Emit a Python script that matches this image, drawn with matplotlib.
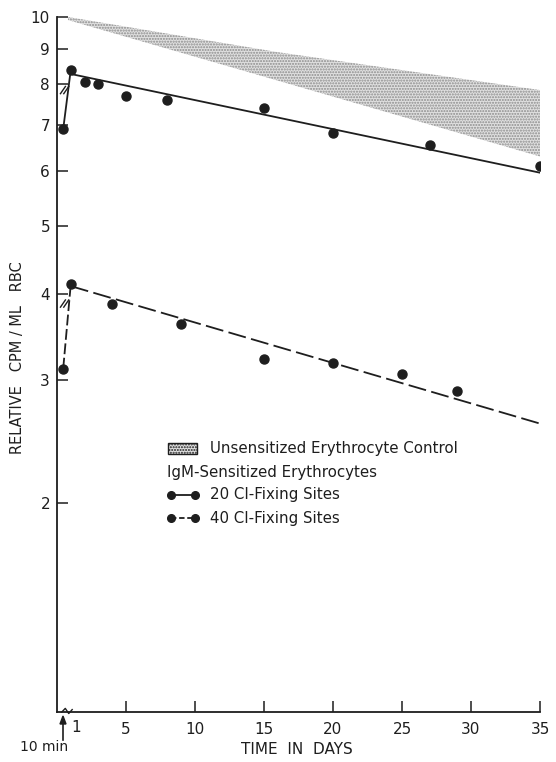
#!/usr/bin/env python3
"""Relative CPM / ML RBC vs time in days (log y), IgM-sensitized vs control."""
import matplotlib
matplotlib.use("Agg")
import matplotlib.pyplot as plt
from matplotlib.ticker import FixedLocator, FixedFormatter, NullLocator

# data (first x position = the "10 min" point)
SOLID_DAYS = [0.45, 1, 2, 3, 5, 8, 15, 20, 27, 35]
SOLID_VALS = [6.9, 8.4, 8.05, 8.0, 7.7, 7.6, 7.4, 6.8, 6.55, 6.1]
SOLID_FIT_DAYS = [1, 35]
SOLID_FIT_VALS = [8.28, 5.97]

DASH_DAYS = [0.45, 1, 4, 9, 15, 20, 25, 29]
DASH_VALS = [3.12, 4.13, 3.86, 3.62, 3.22, 3.18, 3.06, 2.90]
DASH_FIT_DAYS = [1, 35]
DASH_FIT_VALS = [4.10, 2.60]

BAND_DAYS = [0.8, 16, 35]
BAND_TOP = [10.0, 8.9, 7.85]
BAND_BOT = [9.9, 8.1, 6.3]

Y_TICKS = [2, 3, 4, 5, 6, 7, 8, 9, 10]
X_TICKS = [5, 10, 15, 20, 25, 30, 35]

W, H = 556, 762
INK = "#1e1e1e"
plt.rcParams["font.family"] = ["DejaVu Sans"]

fig = plt.figure(figsize=(W / 100, H / 100), dpi=100)
ax = fig.add_axes([57 / W, 1 - 712 / H, (540 - 57) / W, (712 - 17) / H])


def px(x, y):
    return x / W, 1 - y / H


# control band
ax.fill_between(BAND_DAYS, BAND_BOT, BAND_TOP, facecolor="#e0e0e0",
                edgecolor="#8c8c8c", hatch="......", linewidth=0)

# 20 sites (solid)
ax.plot(SOLID_FIT_DAYS, SOLID_FIT_VALS, color=INK, lw=1.3)
ax.plot(SOLID_DAYS[:2], SOLID_VALS[:2], color=INK, lw=1.3)
ax.plot(SOLID_DAYS, SOLID_VALS, "o", color=INK, ms=6.5)

# 40 sites (dashed)
ax.plot(DASH_FIT_DAYS, DASH_FIT_VALS, color=INK, lw=1.3, dashes=(10, 3))
ax.plot(DASH_DAYS[:2], DASH_VALS[:2], color=INK, lw=1.3, dashes=(6, 2))
ax.plot(DASH_DAYS, DASH_VALS, "o", color=INK, ms=6.5)

# break marks on the steep early segments
for yv in (7.85, 3.87):
    for dx in (-0.12, 0.12):
        ax.plot([0.55 + dx - 0.18, 0.55 + dx + 0.18], [yv / 1.012, yv * 1.012],
                color=INK, lw=1.0)

ax.set_yscale("log")
ax.set_ylim(1, 10)
ax.set_xlim(0, 35)
ax.yaxis.set_major_locator(FixedLocator(Y_TICKS))
ax.yaxis.set_major_formatter(FixedFormatter([str(v) for v in Y_TICKS]))
ax.yaxis.set_minor_locator(NullLocator())
ax.set_xticks(X_TICKS)
ax.set_xticklabels([str(v) for v in X_TICKS])
ax.tick_params(axis="both", direction="in", length=8, width=1.1, colors=INK,
               labelsize=11)
ax.tick_params(axis="y", pad=5)
ax.tick_params(axis="x", pad=7)
ax.spines[["top", "right"]].set_visible(False)
for s in ("left", "bottom"):
    ax.spines[s].set_linewidth(1.3)
    ax.spines[s].set_color(INK)

# extra "1" label and 10 min marker
ax.text(1.35, -0.012, "1", transform=ax.get_xaxis_transform(), ha="center",
        va="top", fontsize=11, color=INK)
fig.text(*px(44, 747), "10 min", ha="center", va="center", fontsize=10, color=INK)
fig.add_artist(plt.Line2D([63 / W, 63 / W], [1 - 740 / H, 1 - 722 / H],
                          color=INK, lw=1.2))
fig.add_artist(plt.Polygon([px(60, 724), px(66, 724), px(63, 716)],
                           closed=True, color=INK))
# x-axis break squiggle
ax.plot([0.35, 0.6, 0.85, 1.1], [1.0, 1.012, 0.995, 1.008], color=INK, lw=1.0,
        clip_on=False)

fig.text(*px(297, 749), "TIME  IN  DAYS", ha="center", va="center",
         fontsize=11, color=INK)
fig.text(*px(18, 358), "RELATIVE   CPM / ML   RBC", ha="center", va="center",
         rotation=90, fontsize=10.5, color=INK)

# legend drawn by hand
fig.add_artist(plt.Rectangle(px(168, 454), 29 / W, 11 / H, facecolor="#e0e0e0",
                             edgecolor=INK, hatch="......", lw=1.0))
fs = 10.8
fig.text(*px(210, 449), "Unsensitized Erythrocyte Control", va="center",
         fontsize=fs, color=INK)
fig.text(*px(167, 472), "IgM-Sensitized Erythrocytes", va="center",
         fontsize=fs, color=INK)
for ypos, label, dsh in ((495, "20 CI-Fixing Sites", None),
                         (518, "40 CI-Fixing Sites", (3, 1.5))):
    x0, y0 = px(171, ypos)
    x1, _ = px(195, ypos)
    ln = plt.Line2D([x0, x1], [y0, y0], color=INK, lw=1.3, marker="o", ms=5.5)
    if dsh:
        ln.set_dashes(dsh)
    fig.add_artist(ln)
    fig.text(*px(210, ypos), label, va="center", fontsize=fs, color=INK)

fig.savefig("out.png", dpi=100, facecolor="white")
